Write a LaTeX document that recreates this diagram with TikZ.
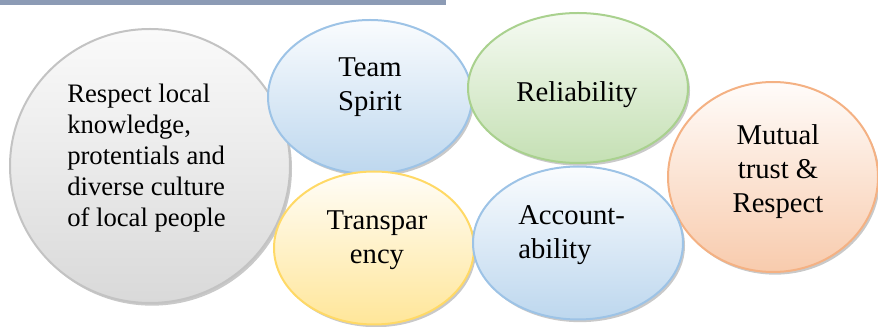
\documentclass[tikz,border=0pt]{standalone}
\usepackage{fontspec}
\setmainfont{Liberation Serif}
\usetikzlibrary{shapes.geometric,shadows}
\definecolor{barc}{HTML}{8C9BB5}
\definecolor{greyT}{HTML}{FAFAFA}\definecolor{greyB}{HTML}{D9D9D9}\definecolor{greyL}{HTML}{C3C3C3}
\definecolor{blueT}{HTML}{FAFCFE}\definecolor{blueB}{HTML}{BDD7EE}\definecolor{blueL}{HTML}{9DC3E6}
\definecolor{greenT}{HTML}{F5FAF2}\definecolor{greenB}{HTML}{C5E0B4}\definecolor{greenL}{HTML}{A9D18E}
\definecolor{yelT}{HTML}{FFFDF8}\definecolor{yelB}{HTML}{FFE699}\definecolor{yelL}{HTML}{FFD966}
\definecolor{orT}{HTML}{FFFCFA}\definecolor{orB}{HTML}{F8CBAD}\definecolor{orL}{HTML}{F4B183}
\begin{document}
\begin{tikzpicture}[x=0.75pt,y=-0.75pt,
  bub/.style={ellipse, inner sep=0pt, line width=1.5pt,
    drop shadow={shadow xshift=1.5pt,shadow yshift=-2pt,opacity=0.3,fill=black!70}},
  greybub/.style={bub, draw=greyL, top color=greyT, bottom color=greyB},
  bluebub/.style={bub, draw=blueL, top color=blueT, bottom color=blueB},
  greenbub/.style={bub, draw=greenL, top color=greenT, bottom color=greenB},
  yelbub/.style={bub, draw=yelL, top color=yelT, bottom color=yelB},
  orbub/.style={bub, draw=orL, top color=orT, bottom color=orB},
  txt/.style={font=\fontsize{21.5}{25.5}\selectfont, align=center, inner sep=0pt, text=black},
  gtxt/.style={font=\fontsize{20}{23.3}\selectfont, align=left, inner sep=0pt, text=black}]
\useasboundingbox (0,0) rectangle (878,327);
\fill[barc] (0,0) rectangle (446,5);
% bubbles
\node[greybub, minimum width=210pt, minimum height=205.5pt] (grey) at (150,166) {};
\node[orbub, minimum width=157.5pt, minimum height=142.5pt] (mutual) at (773,177) {};
\node[bluebub, minimum width=153pt, minimum height=115.5pt] (team) at (370,97) {};
\node[greenbub, minimum width=165pt, minimum height=112.5pt] (rel) at (578,88) {};
\node[yelbub, minimum width=150pt, minimum height=114.75pt] (trans) at (374,248) {};
\node[bluebub, minimum width=157.5pt, minimum height=114.75pt] (acc) at (578,243) {};
% texts
\node[gtxt, anchor=west] (tgrey) at (67,158) {Respect local\\knowledge,\\protentials and\\diverse culture\\of local people};
\node[txt] (tteam) at (370,87) {Team\\Spirit};
\node[txt] (trel) at (577,95) {Reliability};
\node[txt] (ttrans) at (377,240) {Transpar\\ency};
\node[txt, align=left, anchor=west] (tacc) at (518,235) {Account-\\ability};
\node[txt] (tmut) at (778,172) {Mutual\\trust \&\\Respect};
\end{tikzpicture}
\end{document}
